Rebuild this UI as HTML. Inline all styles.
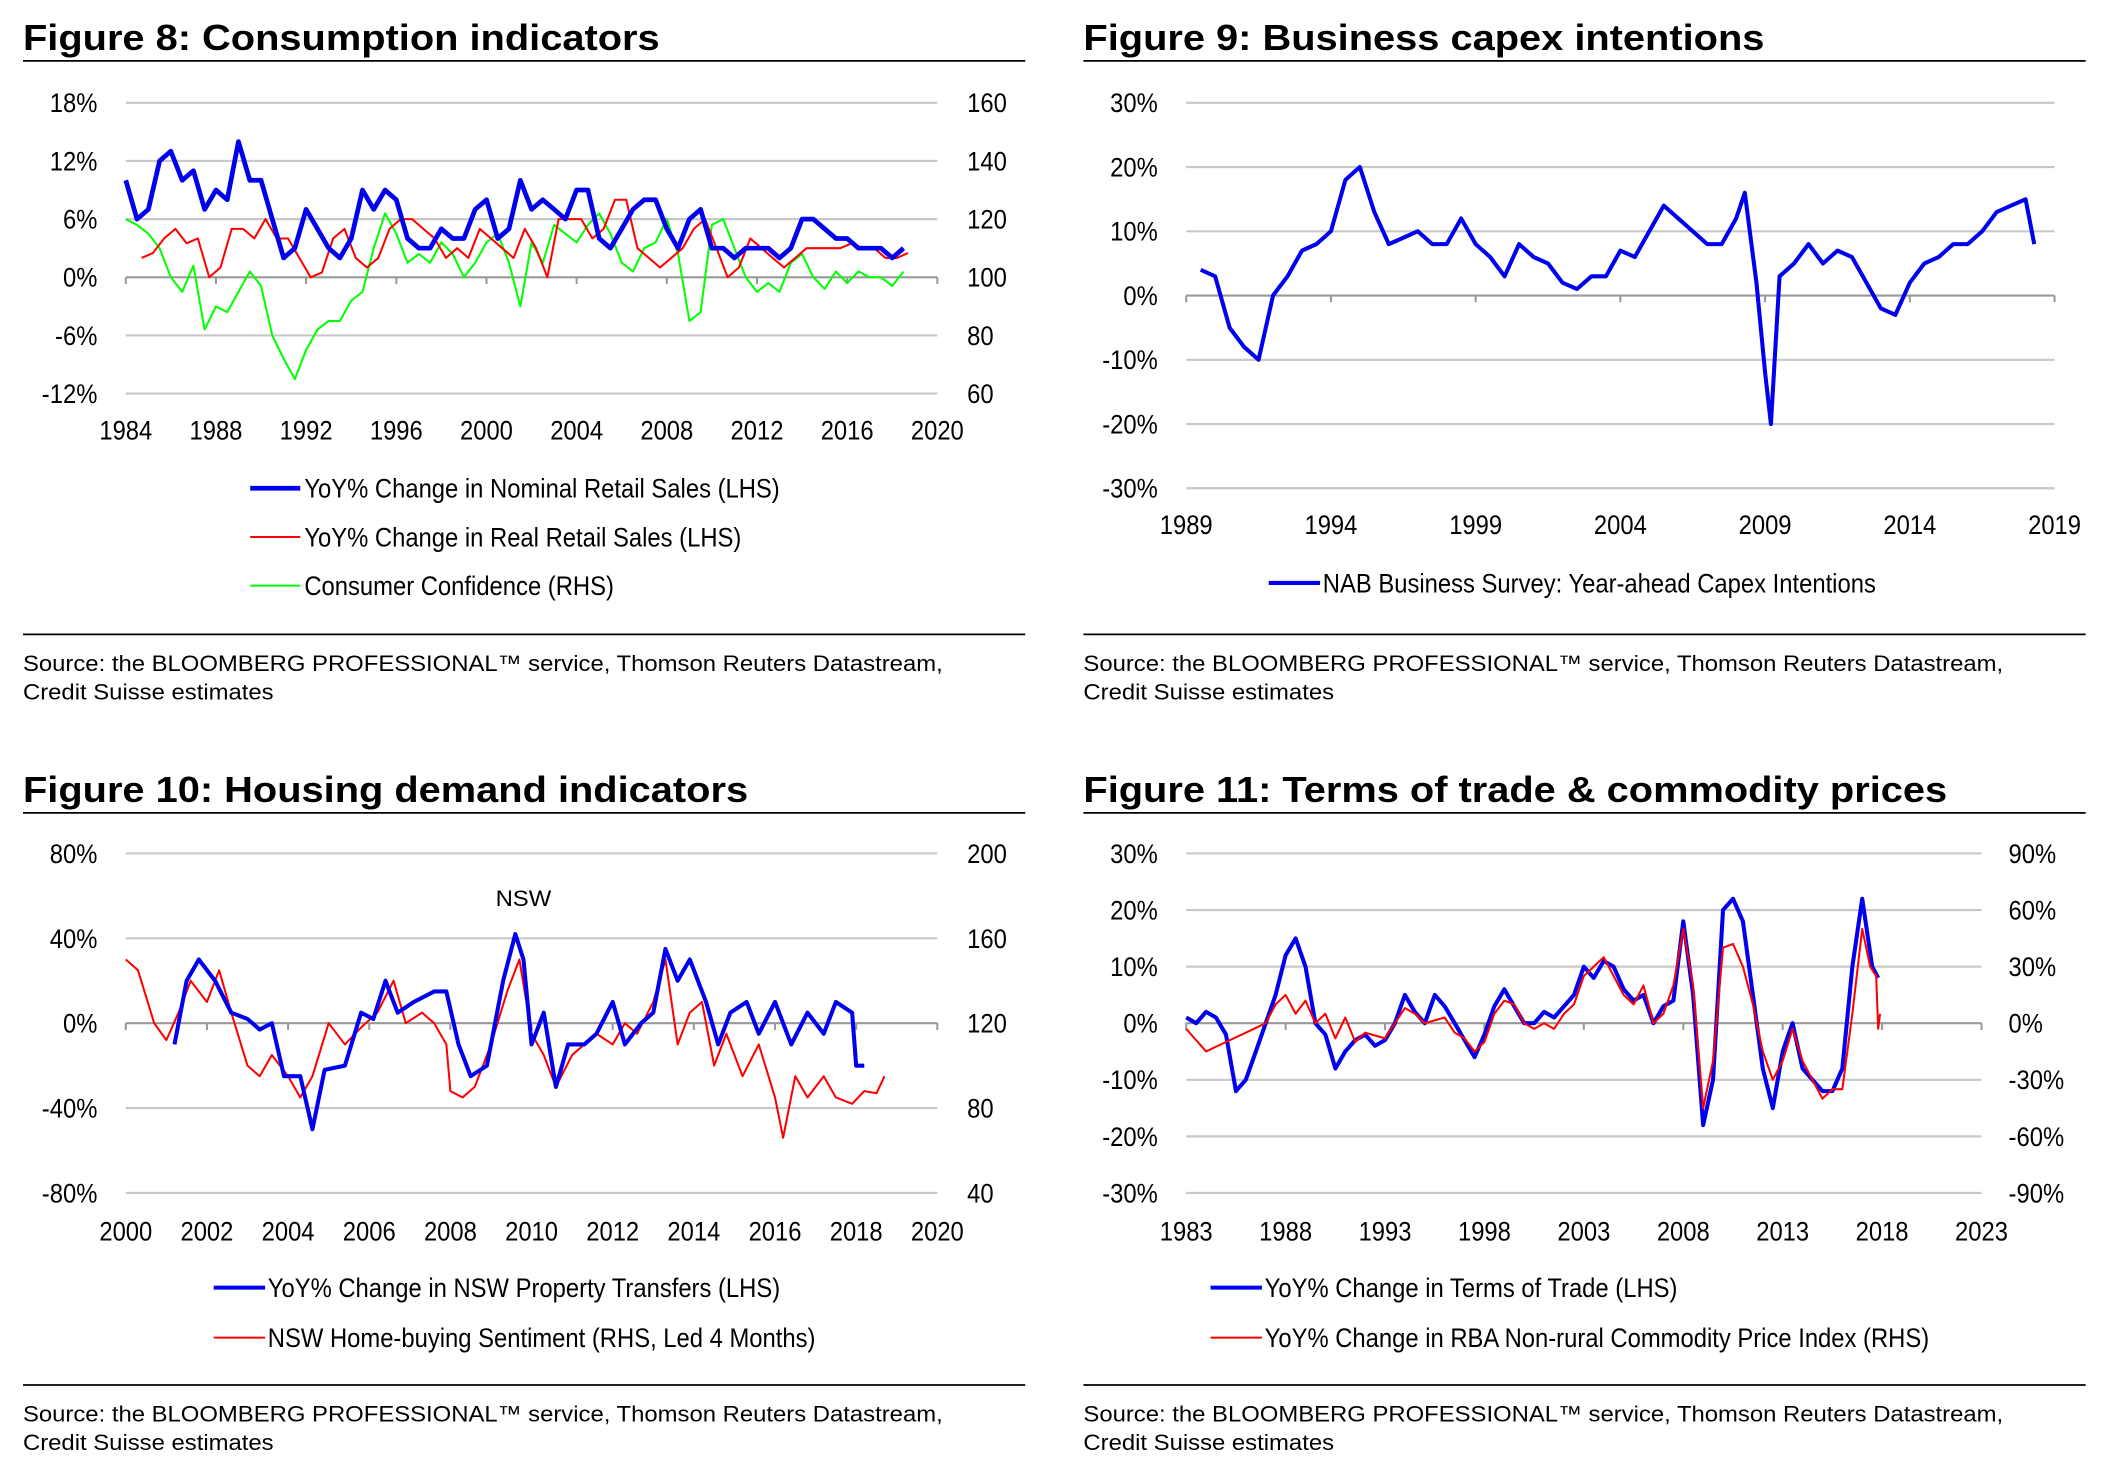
<!DOCTYPE html>
<html><head><meta charset="utf-8"><style>
html,body{margin:0;padding:0;background:#fff;}
svg{display:block;}
.t{font-family:"Liberation Sans",Arial,sans-serif;font-weight:bold;font-size:27px;fill:#000;}
.n{font-family:"Liberation Sans Narrow","Liberation Sans",Arial,sans-serif;font-size:20px;fill:#000;}
.s{font-family:"Liberation Sans",Arial,sans-serif;font-size:16.5px;fill:#000;}
</style></head><body>
<svg id="root" width="2110" height="1479" viewBox="0 0 1560 1093.5" preserveAspectRatio="none" xmlns="http://www.w3.org/2000/svg">
<g id="g8"></g>
<g id="g9"></g>
<g id="g10"></g>
<g id="g11"></g>
</svg>
<script>
// ---- Figure 8 data (half-year steps from 1984) ----
const f8Start = 1984;
const f8Nominal = [10,6,7,12,13,10,11,7,9,8,14,10,10,6,2,3,7,5,3,2,4,9,7,9,8,4,3,3,5,4,4,7,8,4,5,10,7,8,7,6,9,9,4,3,5,7,8,8,5,3,6,7,3,3,2,3,3,3,2,3,6,6,5,4,4,3,3,3,2,3];
const f8RealStart = 1984.7;
const f8Real = [2,2.5,4,5,3.5,4,0,1,5,5,4,6,4,4,2,0,0.5,4,5,2,1,2,5,6,6,5,4,2,3,2,5,4,3,2,5,3,0,6,6,6,4,5,8,8,3,2,1,2,3,5,6,3,0,1,4,3,2,1,2,3,3,3,3,3.5,3,3,2,2,2.5];
const f8Conf = [120,118,115,110,100,95,104,82,90,88,95,102,97,80,72,65,75,82,85,85,92,95,110,122,115,105,108,105,112,108,100,105,112,115,105,90,112,105,118,115,112,118,122,115,105,102,110,112,120,108,85,88,118,120,110,100,95,98,95,105,108,100,96,102,98,102,100,100,97,102];
const f8XTicks = ["1984","1988","1992","1996","2000","2004","2008","2012","2016","2020"];
const f8LTicks = ["18%","12%","6%","0%","-6%","-12%"];
const f8RTicks = ["160","140","120","100","80","60"];
// ---- Figure 9 data ----
const f9Years = [1989.5,1990,1990.5,1991,1991.5,1992,1992.5,1993,1993.5,1994,1994.5,1995,1995.5,1996,1996.5,1997,1997.5,1998,1998.5,1999,1999.5,2000,2000.5,2001,2001.5,2002,2002.5,2003,2003.5,2004,2004.5,2005,2005.5,2006,2006.5,2007,2007.5,2008,2008.3,2008.7,2009,2009.2,2009.5,2010,2010.5,2011,2011.5,2012,2012.5,2013,2013.5,2014,2014.5,2015,2015.5,2016,2016.5,2017,2017.5,2018,2018.3];
const f9Capex = [4,3,-5,-8,-10,0,3,7,8,10,18,20,13,8,9,10,8,8,12,8,6,3,8,6,5,2,1,3,3,7,6,10,14,12,10,8,8,12,16,2,-12,-20,3,5,8,5,7,6,2,-2,-3,2,5,6,8,8,10,13,14,15,8];
const f9XTicks = ["1989","1994","1999","2004","2009","2014","2019"];
const f9LTicks = ["30%","20%","10%","0%","-10%","-20%","-30%"];
// ---- Figure 10 data ----
const f10BlueYears = [2001.2,2001.5,2001.8,2002.2,2002.6,2003.0,2003.3,2003.6,2003.9,2004.3,2004.6,2004.9,2005.4,2005.8,2006.1,2006.4,2006.7,2007.1,2007.6,2007.9,2008.2,2008.5,2008.9,2009.3,2009.6,2009.8,2010.0,2010.3,2010.6,2010.9,2011.3,2011.6,2012.0,2012.3,2012.7,2013.0,2013.3,2013.6,2013.9,2014.3,2014.6,2014.9,2015.3,2015.6,2016.0,2016.4,2016.8,2017.2,2017.5,2017.9,2018.0,2018.2];
const f10Transfers = [-10,20,30,20,5,2,-3,0,-25,-25,-50,-22,-20,5,2,20,5,10,15,15,-10,-25,-20,20,42,30,-10,5,-30,-10,-10,-5,10,-10,0,5,35,20,30,10,-10,5,10,-5,10,-10,5,-5,10,5,-20,-20];
const f10RedYears = [2000,2000.3,2000.7,2001.0,2001.3,2001.6,2002.0,2002.3,2002.6,2003.0,2003.3,2003.6,2004.0,2004.3,2004.6,2005.0,2005.4,2005.8,2006.2,2006.6,2006.9,2007.3,2007.6,2007.9,2008.0,2008.3,2008.6,2009.0,2009.4,2009.7,2010.0,2010.3,2010.6,2011.0,2011.3,2011.6,2012.0,2012.3,2012.6,2013.0,2013.3,2013.6,2013.9,2014.2,2014.5,2014.8,2015.2,2015.6,2016.0,2016.2,2016.5,2016.8,2017.2,2017.5,2017.9,2018.2,2018.5,2018.7];
const f10Sentiment = [150,145,120,112,125,140,130,145,125,100,95,105,95,85,95,120,110,118,125,140,120,125,120,110,88,85,90,110,135,150,115,105,90,105,110,115,110,120,115,130,150,110,125,130,100,115,95,110,85,66,95,85,95,85,82,88,87,95];
const f10XTicks = ["2000","2002","2004","2006","2008","2010","2012","2014","2016","2018","2020"];
const f10LTicks = ["80%","40%","0%","-40%","-80%"];
const f10RTicks = ["200","160","120","80","40"];
// ---- Figure 11 data ----
const f11BlueYears = [1983,1983.5,1984,1984.5,1985,1985.5,1986,1986.5,1987,1987.5,1988,1988.5,1989,1989.5,1990,1990.5,1991,1991.5,1992,1992.5,1993,1993.5,1994,1994.5,1995,1995.5,1996,1996.5,1997,1997.5,1998,1998.5,1999,1999.5,2000,2000.5,2001,2001.5,2002,2002.5,2003,2003.5,2004,2004.5,2005,2005.5,2006,2006.5,2007,2007.5,2008,2008.5,2009,2009.5,2010,2010.5,2011,2011.5,2012,2012.5,2013,2013.5,2014,2014.5,2015,2015.5,2016,2016.5,2017,2017.5,2017.8];
const f11ToT = [1,0,2,1,-2,-12,-10,-5,0,5,12,15,10,0,-2,-8,-5,-3,-2,-4,-3,0,5,2,0,5,3,0,-3,-6,-2,3,6,3,0,0,2,1,3,5,10,8,11,10,6,4,5,0,3,4,18,5,-18,-10,20,22,18,5,-8,-15,-5,0,-8,-10,-12,-12,-8,10,22,10,8];
const f11RedYears = [1983,1984,1985,1986,1987,1987.5,1988,1988.5,1989,1989.5,1990,1990.5,1991,1991.5,1992,1993,1993.5,1994,1994.5,1995,1996,1996.5,1997,1997.5,1998,1998.5,1999,1999.5,2000,2000.5,2001,2001.5,2002,2002.5,2003,2003.5,2004,2004.5,2005,2005.5,2006,2006.5,2007,2007.5,2008,2008.5,2009,2009.5,2010,2010.5,2011,2011.5,2012,2012.5,2013,2013.5,2014,2014.5,2015,2015.5,2016,2016.5,2017,2017.4,2017.7,2017.8,2017.9];
const f11Commodity = [-3,-15,-10,-5,0,10,15,5,12,0,5,-8,3,-10,-5,-8,0,8,5,0,3,-5,-8,-15,-10,5,12,10,0,-3,0,-3,5,10,25,30,35,25,15,10,20,0,5,20,50,20,-45,-20,40,42,30,10,-15,-30,-20,-3,-20,-30,-40,-35,-35,5,50,30,25,-3,5];
const f11XTicks = ["1983","1988","1993","1998","2003","2008","2013","2018","2023"];
const f11LTicks = ["30%","20%","10%","0%","-10%","-20%","-30%"];
const f11RTicks = ["90%","60%","30%","0%","-30%","-60%","-90%"];

const NS = "http://www.w3.org/2000/svg";
function mk(parent, tag, attrs, txt){
  const e = document.createElementNS(NS, tag);
  for (const k in attrs) e.setAttribute(k, attrs[k]);
  if (txt !== undefined) e.textContent = txt;
  parent.appendChild(e);
  return e;
}
function scale(d0,d1,r0,r1){ return v => r0 + (v-d0)/(d1-d0)*(r1-r0); }

function frame(g, ox, oy, title){
  const t = mk(g,'text',{x:ox+17,y:oy+37,class:'t'},title);
  
  
  const r1 = mk(g,'line',{x1:ox+17,x2:ox+758,y1:oy+45,y2:oy+45,stroke:'#000','stroke-width':1.3});
  
  
}
function source(g, ox, oy){
  const r = mk(g,'line',{x1:ox+17,x2:ox+758,y1:oy,y2:oy,stroke:'#000','stroke-width':1.3});
  
  
  const s1 = mk(g,'text',{x:ox+17,y:oy+27,class:'s'},"Source: the BLOOMBERG PROFESSIONAL\u2122 service, Thomson Reuters Datastream,");
  
  
  const s2 = mk(g,'text',{x:ox+17,y:oy+48,class:'s'},"Credit Suisse estimates");
  
  
}
function grid(g, x0, x1, yTop, yBot, nL, zeroIdx, lt, rt, lx, rx){
  for (let i=0;i<nL;i++){
    const y = yTop + i*(yBot-yTop)/(nL-1);
    const l = mk(g,'line',{x1:x0,x2:x1,y1:y,y2:y,stroke:i===zeroIdx?'#999':'#c8c8c8','stroke-width':1.6});
    
    
    const a = mk(g,'text',{x:lx,y:y+7,class:'n','text-anchor':'end'},lt[i]);
    
    
    if (rt){
      const b = mk(g,'text',{x:rx,y:y+7,class:'n'},rt[i]);
      
      
    }
  }
}
function xticks(g, labels, x0, x1, zeroY, labY){
  const n = labels.length;
  for (let i=0;i<n;i++){
    const x = x0 + i*(x1-x0)/(n-1);
    const tk = mk(g,'line',{x1:x,x2:x,y1:zeroY,y2:zeroY+5,stroke:'#999','stroke-width':1.5});
    
    
    const t = mk(g,'text',{x:x,y:labY,class:'n','text-anchor':'middle'},labels[i]);
    
    
  }
}
function line(g, xs, ys, sx, sy, color, w, name){
  let d='';
  for (let i=0;i<ys.length;i++) d += (i?'L':'M') + sx(xs[i]).toFixed(1) + ',' + sy(ys[i]).toFixed(1);
  const p = mk(g,'path',{d:d,fill:'none',stroke:color,'stroke-width':w,'stroke-linejoin':'round'});
  
  
}
function legend(g, x, y, color, w, label, lx1, lx2){
  const l = mk(g,'line',{x1:lx1,x2:lx2,y1:y-7,y2:y-7,stroke:color,'stroke-width':w});
  
  
  const t = mk(g,'text',{x:x,y:y,class:'n'},label);
  
  
}
function stepX(start, step, n){ const a=[]; for(let i=0;i<n;i++) a.push(start+i*step); return a; }

// Figure 8
(function(){
  const g = document.getElementById('g8');
  frame(g,0,0,'Figure 8: Consumption indicators');
  grid(g,93,693,76,291,6,3,f8LTicks,f8RTicks,72,715);
  xticks(g,f8XTicks,93,693,205,325);
  const sx = scale(1984,2020,93,693), sy = scale(-12,18,291,76), sr = scale(60,160,291,76);
  line(g, stepX(f8Start,0.5,f8Conf.length), f8Conf, sx, sr, '#00ff00', 1.5, 'consumer-confidence-line');
  line(g, stepX(f8RealStart,0.5,f8Real.length), f8Real, sx, sy, '#ff0000', 1.5, 'real-retail-sales-line');
  line(g, stepX(f8Start,0.5,f8Nominal.length), f8Nominal, sx, sy, '#0000ee', 3.5, 'nominal-retail-sales-line');
  legend(g,225,368,'#0000ee',3.5,'YoY% Change in Nominal Retail Sales (LHS)',185,222);
  legend(g,225,404,'#ff0000',1.5,'YoY% Change in Real Retail Sales (LHS)',185,222);
  legend(g,225,440,'#00ff00',1.5,'Consumer Confidence (RHS)',185,222);
  source(g,0,469);
})();
// Figure 9
(function(){
  const g = document.getElementById('g9');
  frame(g,784,0,'Figure 9: Business capex intentions');
  grid(g,877,1519,76,361,7,3,f9LTicks,null,856,0);
  xticks(g,f9XTicks,877,1519,218.5,395);
  const sx = scale(1989,2019,877,1519), sy = scale(-30,30,361,76);
  line(g, f9Years, f9Capex, sx, sy, '#0000ee', 3, 'capex-intentions-line');
  legend(g,978,438,'#0000ee',3,'NAB Business Survey: Year-ahead Capex Intentions',938,976);
  source(g,784,469);
})();
// Figure 10
(function(){
  const g = document.getElementById('g10');
  frame(g,0,556,'Figure 10: Housing demand indicators');
  grid(g,93,693,631,882,5,2,f10LTicks,f10RTicks,72,715);
  xticks(g,f10XTicks,93,693,756.5,917);
  const sx = scale(2000,2020,93,693), sy = scale(-80,80,882,631), sr = scale(40,200,882,631);
  line(g, f10RedYears, f10Sentiment, sx, sr, '#ff0000', 1.5, 'home-buying-sentiment-line');
  line(g, f10BlueYears, f10Transfers, sx, sy, '#0000ee', 3, 'property-transfers-line');
  const n = mk(g,'text',{x:387,y:670,class:'s','text-anchor':'middle'},'NSW');
  
  
  legend(g,198,959,'#0000ee',3,'YoY% Change in NSW Property Transfers (LHS)',158,196);
  legend(g,198,996,'#ff0000',1.5,'NSW Home-buying Sentiment (RHS, Led 4 Months)',158,196);
  source(g,0,1024);
})();
// Figure 11
(function(){
  const g = document.getElementById('g11');
  frame(g,784,556,'Figure 11: Terms of trade & commodity prices');
  grid(g,877,1465,631,882,7,3,f11LTicks,f11RTicks,856,1485);
  xticks(g,f11XTicks,877,1465,756.5,917);
  const sx = scale(1983,2023,877,1465), sy = scale(-30,30,882,631), sr = scale(-90,90,882,631);
  line(g, f11BlueYears, f11ToT, sx, sy, '#0000ee', 3, 'terms-of-trade-line');
  line(g, f11RedYears, f11Commodity, sx, sr, '#ff0000', 1.5, 'commodity-price-line');
  legend(g,935,959,'#0000ee',3,'YoY% Change in Terms of Trade (LHS)',895,933);
  legend(g,935,996,'#ff0000',1.5,'YoY% Change in RBA Non-rural Commodity Price Index (RHS)',895,933);
  source(g,784,1024);
})();
// Width adjustment to mimic the narrow/wide fonts in the reference
(function(){
  const adj = {t:1.09, n:0.88, s:1.07};
  document.querySelectorAll('#root text').forEach(function(t){
    const c = t.getAttribute('class');
    if (!adj[c]) return;
    const w = t.getComputedTextLength();
    if (w > 0){
      t.setAttribute('textLength', (w*adj[c]).toFixed(1));
      t.setAttribute('lengthAdjust','spacingAndGlyphs');
    }
  });
})();
</script>
</body></html>
